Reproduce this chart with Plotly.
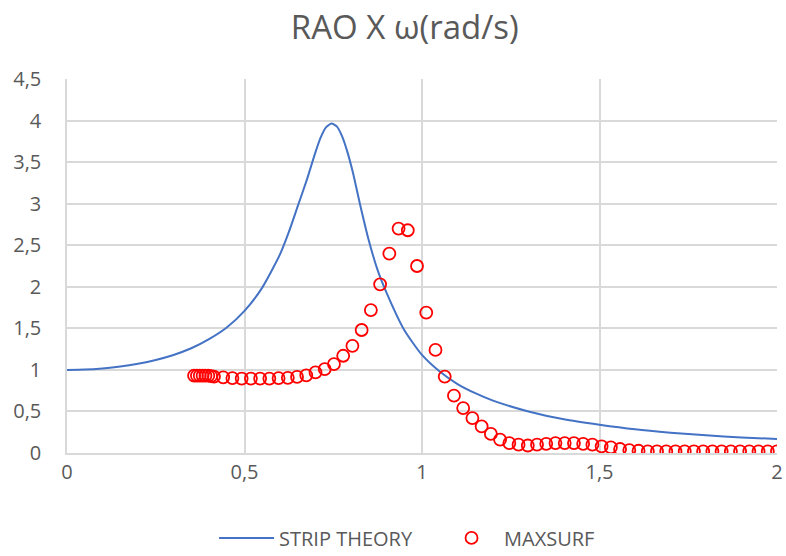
import plotly.graph_objects as go

# STRIP THEORY curve
strip_w = [0, 0.05, 0.1, 0.15, 0.2, 0.25, 0.3, 0.35, 0.4, 0.45, 0.5, 0.55, 0.6, 0.625,
           0.65, 0.675, 0.7, 0.715, 0.73, 0.745, 0.76, 0.775, 0.79, 0.805, 0.825, 0.85,
           0.875, 0.9, 0.95, 1.0, 1.05, 1.1, 1.15, 1.2, 1.3, 1.4, 1.5, 1.6, 1.7, 1.8,
           1.9, 2.0]
strip_rao = [1.0, 1.004, 1.018, 1.04, 1.074, 1.12, 1.18, 1.26, 1.37, 1.51, 1.71, 1.99,
             2.39, 2.66, 2.97, 3.28, 3.62, 3.80, 3.92, 3.965, 3.93, 3.81, 3.62, 3.38,
             3.0, 2.56, 2.20, 1.93, 1.48, 1.18, 0.98, 0.83, 0.72, 0.63, 0.50, 0.405,
             0.34, 0.285, 0.245, 0.213, 0.188, 0.168]

# MAXSURF points
maxsurf_w = [0.358, 0.366, 0.374, 0.382, 0.39, 0.398, 0.406,
             0.414, 0.44, 0.466, 0.492, 0.518, 0.544, 0.57, 0.596, 0.622, 0.648, 0.674,
             0.7, 0.726, 0.752, 0.778, 0.804, 0.83, 0.856, 0.882, 0.908, 0.934, 0.96,
             0.986, 1.012, 1.038, 1.064, 1.09, 1.116, 1.142, 1.168, 1.194, 1.22, 1.246,
             1.272, 1.298, 1.324, 1.35, 1.376, 1.402, 1.428, 1.454, 1.48, 1.506, 1.532,
             1.558, 1.584, 1.61, 1.636, 1.662, 1.688, 1.714, 1.74, 1.766, 1.792, 1.818,
             1.844, 1.87, 1.896, 1.922, 1.948, 1.974, 2.0]
maxsurf_rao = [0.93, 0.93, 0.93, 0.93, 0.93, 0.93, 0.925,
               0.92, 0.91, 0.90, 0.895, 0.895, 0.895, 0.895, 0.90, 0.905, 0.915, 0.935,
               0.97, 1.01, 1.07, 1.17, 1.29, 1.48, 1.72, 2.03, 2.40, 2.70, 2.68,
               2.25, 1.69, 1.24, 0.92, 0.69, 0.54, 0.42, 0.32, 0.23, 0.16, 0.12,
               0.10, 0.09, 0.10, 0.11, 0.12, 0.12, 0.12, 0.11, 0.10, 0.08, 0.067,
               0.048, 0.035, 0.027, 0.02, 0.02, 0.02, 0.02, 0.02, 0.02, 0.02, 0.02,
               0.02, 0.02, 0.02, 0.02, 0.02, 0.02, 0.02]

x_ticks = [0, 0.5, 1, 1.5, 2]
y_ticks = [0, 0.5, 1, 1.5, 2, 2.5, 3, 3.5, 4, 4.5]

GRAY = "#595959"
FONT = "Open Sans"

fig = go.Figure()
fig.add_trace(go.Scatter(
    x=strip_w, y=strip_rao, mode="lines", name="STRIP THEORY",
    line=dict(color="#4472C4", width=2, shape="spline", smoothing=0.6),
))
fig.add_trace(go.Scatter(
    x=maxsurf_w, y=maxsurf_rao, mode="markers", name="MAXSURF",
    marker=dict(symbol="circle-open", size=12, color="#FF0000",
                line=dict(width=1.8, color="#FF0000")),
))

fig.update_layout(
    width=786, height=556,
    margin=dict(l=67, r=9, t=79, b=103, autoexpand=False),
    paper_bgcolor="white", plot_bgcolor="white",
    separators=", ",
    title=dict(text="RAO X ω(rad/s)", x=0.515, xanchor="center", y=0.95, yanchor="middle",
               font=dict(family=FONT, size=33, color=GRAY)),
    font=dict(family=FONT, size=20, color=GRAY),
    legend=dict(orientation="h", x=0.524, xanchor="center", y=-0.175, yanchor="top",
                font=dict(family=FONT, size=20, color=GRAY), itemwidth=55,
                traceorder="normal", entrywidth=155, entrywidthmode="pixels"),
    showlegend=True,
)
fig.update_xaxes(range=[0, 2], tickvals=x_ticks, showgrid=True, gridcolor="#D9D9D9",
                 gridwidth=1.5, zeroline=False, showline=True, linecolor="#D9D9D9",
                 linewidth=1.5, ticks="", automargin=False, ticklabelstandoff=0,
                 tickfont=dict(size=20, color=GRAY))
fig.update_yaxes(range=[0, 4.5], tickvals=y_ticks, showgrid=True, gridcolor="#D9D9D9",
                 gridwidth=1.5, zeroline=False, showline=True, linecolor="#D9D9D9",
                 linewidth=1.5, ticks="", ticklabelstandoff=20, automargin=False,
                 tickfont=dict(size=20, color=GRAY))

fig.write_html("out.html")
